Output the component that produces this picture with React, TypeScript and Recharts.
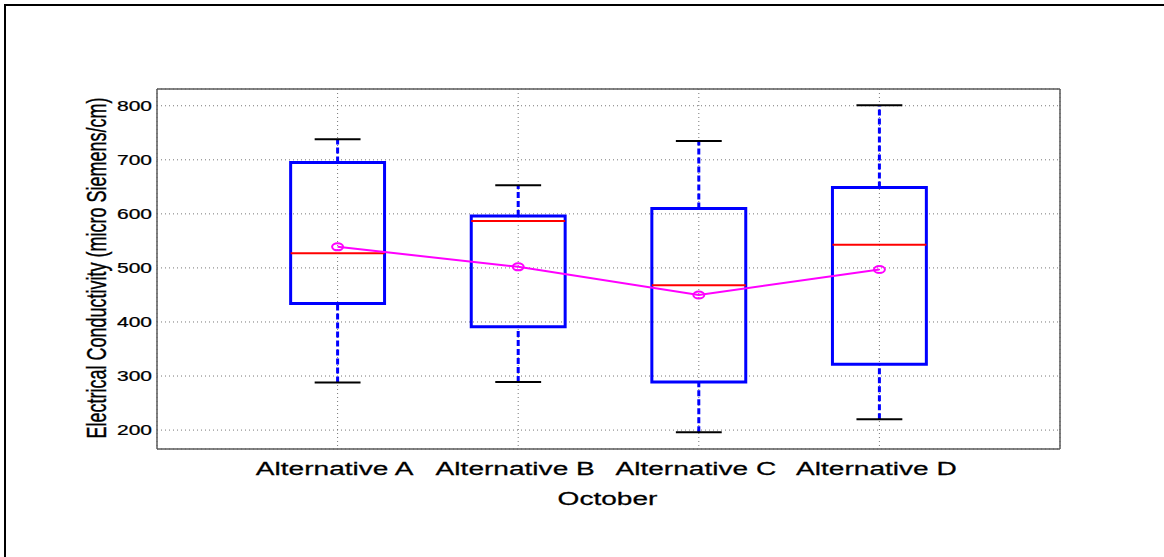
import React from "react";
import {
  ComposedChart,
  Line,
  XAxis,
  YAxis,
  CartesianGrid,
  ReferenceLine,
  ReferenceArea,
} from "recharts";

const categories = ["Alternative A", "Alternative B", "Alternative C", "Alternative D"];
const upperWhisker = [738, 653, 735, 801];
const upperQuartile = [695, 596, 610, 649];
const medians = [527, 587, 468, 543];
const lowerQuartile = [434, 391, 289, 322];
const lowerWhisker = [288, 289, 196, 220];
const means = [539, 502, 450, 497];
const yTicks = [200, 300, 400, 500, 600, 700, 800];
const xTicks = [1, 2, 3, 4];

const rows = categories.map((name, i) => ({ x: i + 1, name, mean: means[i] }));

const BOX_HALF = 0.26;
const CAP_HALF = 0.127;
const FONT = "'Liberation Sans', Arial, Helvetica, sans-serif";
const FRAME = "#5a5a5a";
// the original figure is stretched sideways, text included
const TEXT_STYLE = { fill: "#000", stroke: "#000", strokeWidth: 0.25 };

const YTick = (props: any) => (
  <text
    transform={`translate(${props.x},${props.y + 5}) scale(1.5,1)`}
    textAnchor="end"
    fontSize={14}
    fontFamily={FONT}
    {...TEXT_STYLE}
  >
    {props.payload.value}
  </text>
);

const XTick = (props: any) => (
  <text
    transform={`translate(${props.x - 3},${props.y + 21}) scale(1.56,1)`}
    textAnchor="middle"
    fontSize={18}
    fontFamily={FONT}
    {...TEXT_STYLE}
  >
    {categories[props.payload.value - 1]}
  </text>
);

const MeanDot = (props: any) => (
  <ellipse
    key={`m${props.index}`}
    cx={props.cx}
    cy={props.cy}
    rx={5.5}
    ry={3.5}
    fill="none"
    stroke="#ff00ff"
    strokeWidth={2}
  />
);

export default function App() {
  return (
    <div style={{ position: "absolute", left: 0, top: 0, width: 1164, height: 557, background: "#fff" }}>
      <div
        style={{
          position: "absolute",
          left: 4,
          top: 4,
          width: 1160,
          height: 553,
          borderTop: "2px solid #000",
          borderLeft: "2px solid #000",
        }}
      />
      <div style={{ position: "absolute", left: 0, top: 0 }}>
        <ComposedChart
          width={1164}
          height={557}
          data={rows}
          margin={{ top: 89, right: 104, bottom: 58, left: 97 }}
        >
          <CartesianGrid stroke="#777" strokeDasharray="1 3" />
          <XAxis
            type="number"
            dataKey="x"
            domain={[0, 5]}
            ticks={xTicks}
            height={50}
            tickSize={5}
            tickMargin={0}
            tickLine={false}
            axisLine={{ stroke: FRAME, strokeWidth: 1.5 }}
            tick={XTick}
            label={{
              content: (p: any) => (
                <text
                  transform={`translate(${p.viewBox.x + p.viewBox.width / 2 - 1},${p.viewBox.y + 56}) scale(1.56,1)`}
                  textAnchor="middle"
                  fontSize={18}
                  fontFamily={FONT}
                  {...TEXT_STYLE}
                >
                  October
                </text>
              ),
            }}
          />
          <XAxis
            xAxisId="top"
            type="number"
            dataKey="x"
            orientation="top"
            mirror
            domain={[0, 5]}
            ticks={xTicks}
            tick={false}
            tickSize={5}
            tickLine={{ stroke: "#333" }}
            axisLine={{ stroke: FRAME, strokeWidth: 1.5 }}
          />
          <XAxis
            xAxisId="bottomIn"
            type="number"
            dataKey="x"
            orientation="bottom"
            mirror
            domain={[0, 5]}
            ticks={xTicks}
            tick={false}
            tickSize={5}
            tickLine={{ stroke: "#333" }}
            axisLine={false}
          />
          <YAxis
            type="number"
            domain={[165, 831]}
            ticks={yTicks}
            width={60}
            tickSize={5}
            tickMargin={0}
            tickLine={false}
            axisLine={{ stroke: FRAME, strokeWidth: 1.5 }}
            tick={YTick}
            label={{
              content: (p: any) => (
                <text
                  transform={`translate(${p.viewBox.x + 9},${p.viewBox.y + p.viewBox.height / 2 - 1}) scale(1.5,1) rotate(-90)`}
                  textAnchor="middle"
                  fontSize={18}
                  fontFamily={FONT}
                  {...TEXT_STYLE}
                >
                  Electrical Conductivity (micro Siemens/cm)
                </text>
              ),
            }}
          />
          <YAxis
            yAxisId="right"
            type="number"
            orientation="right"
            mirror
            domain={[165, 831]}
            ticks={yTicks}
            tick={false}
            tickSize={7}
            tickLine={{ stroke: "#555" }}
            axisLine={{ stroke: FRAME, strokeWidth: 1.5 }}
          />
          <YAxis
            yAxisId="leftIn"
            type="number"
            orientation="left"
            mirror
            domain={[165, 831]}
            ticks={yTicks}
            tick={false}
            tickSize={7}
            tickLine={{ stroke: "#555" }}
            axisLine={false}
          />

          {rows.map((r, i) => (
            <ReferenceLine
              key={`wu${i}`}
              segment={[
                { x: r.x, y: upperQuartile[i] },
                { x: r.x, y: upperWhisker[i] },
              ]}
              stroke="#0000ff"
              strokeWidth={3}
              strokeDasharray="6 3"
            />
          ))}
          {rows.map((r, i) => (
            <ReferenceLine
              key={`wl${i}`}
              segment={[
                { x: r.x, y: lowerWhisker[i] },
                { x: r.x, y: lowerQuartile[i] },
              ]}
              stroke="#0000ff"
              strokeWidth={3}
              strokeDasharray="6 3"
            />
          ))}
          {rows.map((r, i) => (
            <ReferenceLine
              key={`cu${i}`}
              segment={[
                { x: r.x - CAP_HALF, y: upperWhisker[i] },
                { x: r.x + CAP_HALF, y: upperWhisker[i] },
              ]}
              stroke="#000"
              strokeWidth={2}
            />
          ))}
          {rows.map((r, i) => (
            <ReferenceLine
              key={`cl${i}`}
              segment={[
                { x: r.x - CAP_HALF, y: lowerWhisker[i] },
                { x: r.x + CAP_HALF, y: lowerWhisker[i] },
              ]}
              stroke="#000"
              strokeWidth={2}
            />
          ))}
          {rows.map((r, i) => (
            <ReferenceArea
              key={`b${i}`}
              x1={r.x - BOX_HALF}
              x2={r.x + BOX_HALF}
              y1={lowerQuartile[i]}
              y2={upperQuartile[i]}
              fill="none"
              fillOpacity={0}
              stroke="#0000ff"
              strokeWidth={3}
            />
          ))}
          {rows.map((r, i) => (
            <ReferenceLine
              key={`md${i}`}
              segment={[
                { x: r.x - BOX_HALF, y: medians[i] },
                { x: r.x + BOX_HALF, y: medians[i] },
              ]}
              stroke="#ff0000"
              strokeWidth={2}
            />
          ))}

          <Line
            dataKey="mean"
            stroke="#ff00ff"
            strokeWidth={2}
            dot={MeanDot}
            activeDot={false}
            isAnimationActive={false}
          />
        </ComposedChart>
      </div>
    </div>
  );
}
